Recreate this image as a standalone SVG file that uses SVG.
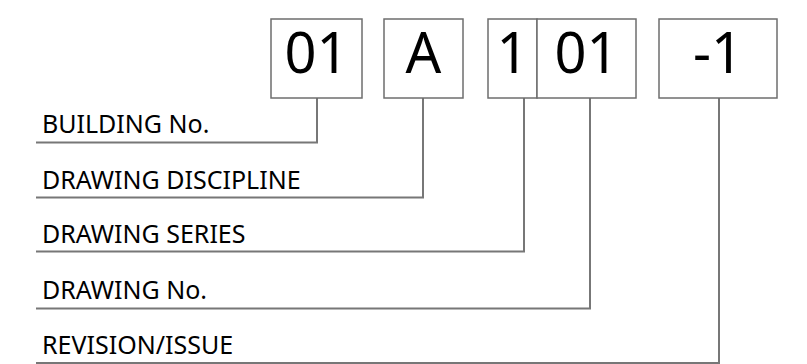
<svg xmlns="http://www.w3.org/2000/svg" width="807" height="364" viewBox="0 0 807 364">
<style>
.box{fill:#fff;stroke:#6e6e6e;stroke-width:1.5}
.big{font-family:"Noto Sans","Open Sans",sans-serif;font-size:56px;fill:#000;text-anchor:middle}
.lbl{font-family:"Noto Sans","Open Sans",sans-serif;font-size:25px;fill:#000}
.ln{fill:none;stroke:#777;stroke-width:2}
</style>
<rect width="807" height="364" fill="#fff"/>
<g id="connectors">
<polyline class="ln" points="36,142.5 317,142.5 317,98"/>
<polyline class="ln" points="36,197.5 423,197.5 423,98"/>
<polyline class="ln" points="36,251.5 524,251.5 524,98"/>
<polyline class="ln" points="36,308.5 590,308.5 590,98"/>
<polyline class="ln" points="36,363 719,363 719,98"/>
</g>
<g id="box-building">
<rect class="box" x="271" y="19" width="91" height="79"/>
<text class="big" x="316.5" y="73">01</text>
</g>
<g id="box-discipline">
<rect class="box" x="384" y="19" width="79" height="79"/>
<text class="big" x="423.5" y="73">A</text>
</g>
<g id="box-series">
<rect class="box" x="488" y="19" width="49" height="79"/>
<text class="big" x="512.5" y="73">1</text>
</g>
<g id="box-number">
<rect class="box" x="537" y="19" width="99" height="79"/>
<text class="big" x="586.5" y="73">01</text>
</g>
<g id="box-revision">
<rect class="box" x="659" y="19" width="118" height="79"/>
<text class="big" x="718" y="73">-1</text>
</g>
<g id="label-building"><text class="lbl" x="42" y="133">BUILDING No.</text></g>
<g id="label-discipline"><text class="lbl" x="42" y="188.5">DRAWING DISCIPLINE</text></g>
<g id="label-series"><text class="lbl" x="42" y="242.5">DRAWING SERIES</text></g>
<g id="label-number"><text class="lbl" x="42" y="298.5">DRAWING No.</text></g>
<g id="label-revision"><text class="lbl" x="42" y="353.5">REVISION/ISSUE</text></g>
</svg>
